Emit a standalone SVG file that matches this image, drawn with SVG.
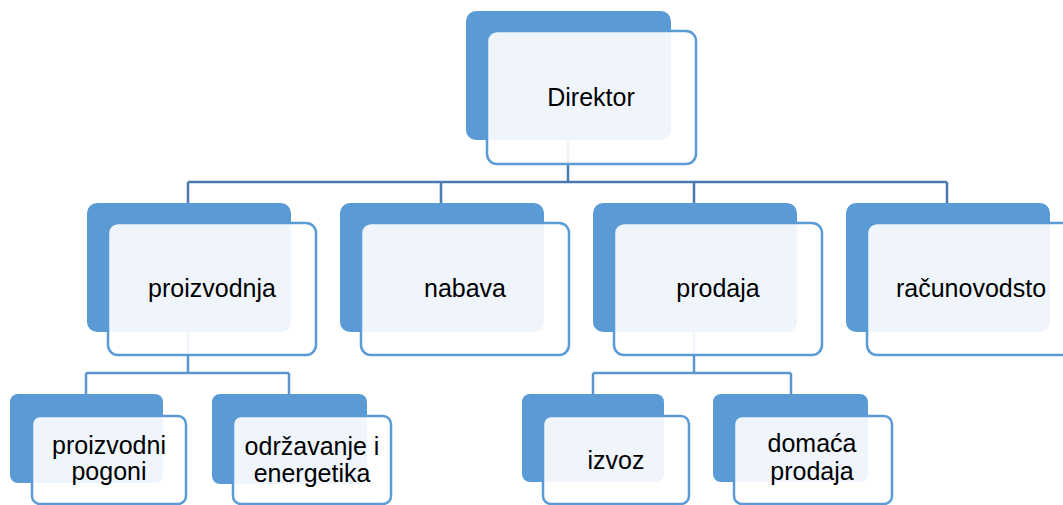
<svg xmlns="http://www.w3.org/2000/svg" width="1063" height="505" viewBox="0 0 1063 505">
<style>
.back{fill:#5b9bd5}
.front{fill:#ffffff;fill-opacity:0.9;stroke:#5b9bd5;stroke-width:2.5}
.l2{fill:none;stroke:#4a7ab0;stroke-width:2.5}
.l3{fill:none;stroke:#5b95cf;stroke-width:2.5}
text{font-family:"Liberation Sans",Arial,sans-serif;font-size:25px;fill:#000;text-anchor:middle}
</style>
<rect width="1063" height="505" fill="#ffffff"/>
<g id="connectors">
<path class="l2" d="M568,140 V182 M188,182 H947 M188,182 V203 M441,182 V203 M694,182 V203 M947,182 V203"/>
<path class="l3" d="M188,332 V373 M86,373 H289 M86,373 V394 M289,373 V394"/>
<path class="l3" d="M694,332 V373 M593,373 H791 M593,373 V394 M791,373 V394"/>
</g>
<g id="director">
<rect class="back" x="466" y="11" width="205" height="129" rx="10"/>
<rect class="front" x="487" y="31" width="209" height="133" rx="10"/>
<text x="591" y="106">Direktor</text>
</g>
<g id="proizvodnja">
<rect class="back" x="87" y="203" width="204" height="129" rx="10"/>
<rect class="front" x="108" y="223" width="208" height="132" rx="10"/>
<text x="212" y="297">proizvodnja</text>
</g>
<g id="nabava">
<rect class="back" x="340" y="203" width="204" height="129" rx="10"/>
<rect class="front" x="361" y="223" width="208" height="132" rx="10"/>
<text x="465" y="297">nabava</text>
</g>
<g id="prodaja">
<rect class="back" x="593" y="203" width="204" height="129" rx="10"/>
<rect class="front" x="614" y="223" width="208" height="132" rx="10"/>
<text x="718" y="297">prodaja</text>
</g>
<g id="racunovodstvo">
<rect class="back" x="846" y="203" width="204" height="129" rx="10"/>
<rect class="front" x="867" y="223" width="208" height="132" rx="10"/>
<text x="971" y="297">računovodsto</text>
</g>
<g id="proizvodni-pogoni">
<rect class="back" x="10" y="394" width="153" height="89" rx="8"/>
<rect class="front" x="32" y="416" width="154" height="88" rx="8"/>
<text x="109" y="454">proizvodni</text>
<text x="109" y="480">pogoni</text>
</g>
<g id="odrzavanje">
<rect class="back" x="212" y="394" width="155" height="90" rx="8"/>
<rect class="front" x="233" y="416" width="158" height="88" rx="8"/>
<text x="312" y="455">održavanje i</text>
<text x="312" y="482">energetika</text>
</g>
<g id="izvoz">
<rect class="back" x="522" y="394" width="142" height="88" rx="8"/>
<rect class="front" x="543" y="416" width="146" height="88" rx="8"/>
<text x="616" y="469">izvoz</text>
</g>
<g id="domaca-prodaja">
<rect class="back" x="713" y="394" width="155" height="88" rx="8"/>
<rect class="front" x="734" y="416" width="158" height="88" rx="8"/>
<text x="812" y="452">domaća</text>
<text x="812" y="480">prodaja</text>
</g>
</svg>
